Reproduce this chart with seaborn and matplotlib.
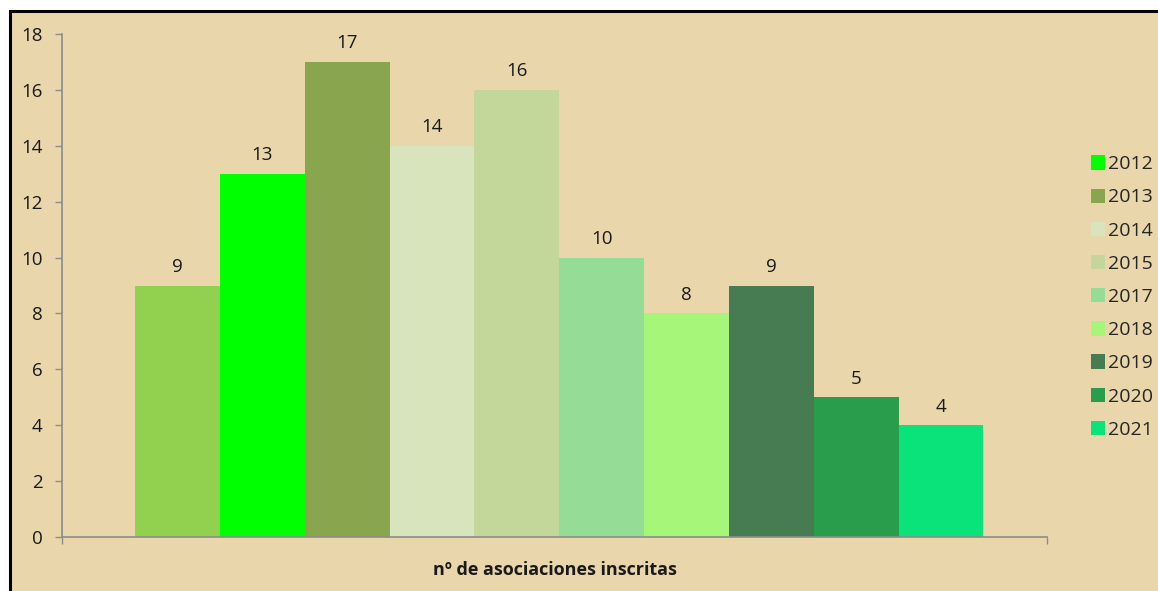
import pandas as pd
import matplotlib
matplotlib.use("Agg")
import matplotlib.pyplot as plt
from matplotlib.patches import Rectangle
import seaborn as sns

# Data
serie = "nº de asociaciones inscritas"
years = ["sin etiqueta", "2012", "2013", "2014", "2015", "2017", "2018", "2019", "2020", "2021"]
values = [9, 13, 17, 14, 16, 10, 8, 9, 5, 4]
colors = ["#92D050", "#00FF00", "#89A64E", "#D8E4BC", "#C4D79B",
          "#95DC96", "#A6F67A", "#477B51", "#2A9D4C", "#09E37A"]
legend_years = years[1:]

df = pd.DataFrame({"serie": [serie] * len(years), "año": years, "valor": values})

bg = "#EAD6AB"
grey = "#8C8C8C"

sns.set_theme(style="white")
plt.rcParams["font.family"] = ["Open Sans", "DejaVu Sans"]

fig = plt.figure(figsize=(11.58, 5.91), dpi=100, facecolor="white")
# tan panel with black frame on the left and top edges
fig.add_artist(Rectangle((10 / 1158, -0.1), 1.2, 1 - 11 / 591 + 0.1,
                         transform=fig.transFigure, facecolor=bg,
                         edgecolor="black", linewidth=2.2, zorder=-1))

ax = fig.add_axes([62 / 1158, 1 - 537 / 591, 985 / 1158, 503 / 591])
ax.set_facecolor("none")

sns.barplot(data=df, x="serie", y="valor", hue="año", hue_order=years,
            palette=dict(zip(years, colors)), width=0.8, gap=0,
            saturation=1, dodge=True, linewidth=0, ax=ax, legend=True)

for cont in ax.containers:
    ax.bar_label(cont, fmt="%d", padding=7, fontsize=13.5, color="#1a1a1a")

ax.set_ylim(0, 18)
ax.set_yticks(range(0, 19, 2))
x0, x1 = -0.469, 0.460
ax.set_xlim(x0, x1)
ax.set_xticks([x0, x1])
ax.set_xticklabels(["", ""])
ax.set_ylabel("")
ax.set_xlabel(serie, fontsize=13, fontweight="bold", color="#1a1a1a", labelpad=9)

for side in ["top", "right"]:
    ax.spines[side].set_visible(False)
for side in ["left", "bottom"]:
    ax.spines[side].set_color(grey)
    ax.spines[side].set_linewidth(1.2)
ax.tick_params(axis="both", direction="out", length=5, width=1, color=grey,
               labelsize=13.5, labelcolor="#1a1a1a", left=True, bottom=True)
ax.tick_params(axis="y", pad=9)

# legend without the unlabeled first bar
handles, labels = ax.get_legend_handles_labels()
keep = [(h, l) for h, l in zip(handles, labels) if l in legend_years]
ax.get_legend().remove()
fig.legend([h for h, _ in keep], [l for _, l in keep],
           loc="center left", bbox_to_anchor=(1081 / 1158, 1 - 297 / 591),
           frameon=False, fontsize=14, handlelength=0.75, handleheight=0.75,
           handletextpad=0.15, labelspacing=0.78, borderpad=0)

fig.savefig("out.png", dpi=100, facecolor="white")
